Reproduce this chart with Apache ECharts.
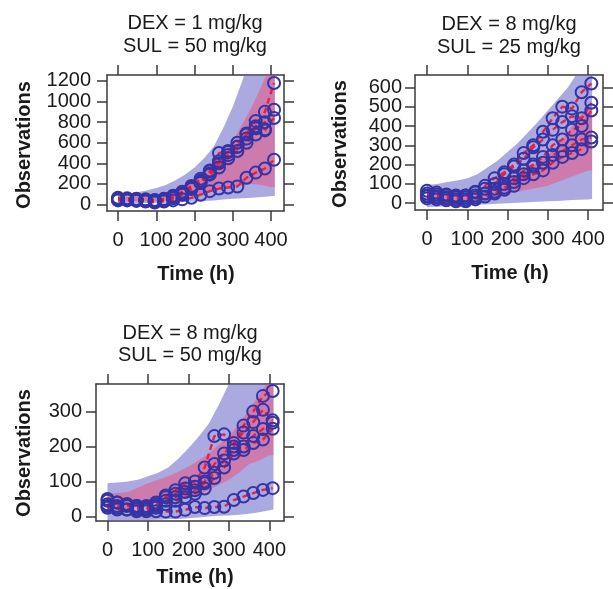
<!DOCTYPE html>
<html><head><meta charset="utf-8">
<script src="https://cdn.jsdelivr.net/npm/echarts@6/dist/echarts.min.js"></script>
<style>html,body{margin:0;padding:0;background:#fff}#c{width:613px;height:589px}</style>
</head><body><div id="c"></div>
<script>
// ---------- data ----------
const times = [0,24,48,72,96,120,144,168,192,216,240,264,288,312,336,360,384,408];
const xTicks = [0,100,200,300,400];
const bandTimes = [0,25,50,75,100,125,150,175,200,225,250,275,300,325,350,375,400,410];

// Panel 1: DEX = 1 mg/kg, SUL = 50 mg/kg
const p1Title = ['DEX = 1 mg/kg', 'SUL = 50 mg/kg'];
const p1YTicks = [0,200,400,600,800,1000,1200];
const p1Ind1 = [65,60,55,50,45,55,85,125,180,250,330,420,520,600,680,760,900,1180];
const p1Ind2 = [55,50,50,45,40,50,75,110,170,230,300,400,480,560,640,740,800,920];
const p1Ind3 = [45,45,40,35,35,45,65,100,150,210,290,360,450,520,600,680,720,840];
const p1Ind4 = [50,45,45,40,30,40,60,95,160,220,320,500,510,560,690,810,730,'-'];
const p1Ind5 = [40,40,35,30,20,30,40,50,65,95,130,155,165,175,260,310,350,435];
const p1BlueLo = [15,15,15,15,15,18,20,25,30,35,40,48,55,60,65,72,80,85];
const p1BlueHi = [105,110,120,135,160,190,235,290,360,450,560,740,950,1200,1500,1800,2100,2200];
const p1RedLo  = [35,35,35,35,35,40,50,70,90,110,130,150,170,185,200,190,170,170];
const p1RedHi  = [75,75,75,80,90,110,140,190,250,320,400,500,620,780,950,1150,1350,1400];

// Panel 2: DEX = 8 mg/kg, SUL = 25 mg/kg
const p2Title = ['DEX = 8 mg/kg', 'SUL = 25 mg/kg'];
const p2YTicks = [0,100,200,300,400,500,600];
const p2Ind1 = [65,55,45,40,40,60,90,130,160,200,260,300,370,440,500,490,575,620];
const p2Ind2 = [50,45,40,35,40,55,75,100,150,190,230,290,330,380,420,450,440,520];
const p2Ind3 = [35,30,25,20,20,30,50,75,100,130,170,200,240,300,330,380,400,480];
const p2Ind4 = [25,20,15,10,10,20,35,50,80,110,150,190,210,250,270,300,330,340];
const p2Ind5 = [40,35,30,30,30,40,50,60,70,90,130,150,170,210,240,260,280,320];
const p2BlueLo = [-20,-18,-15,-12,-10,-8,-5,-3,0,3,5,8,10,12,15,18,20,22];
const p2BlueHi = [95,100,110,118,130,150,185,220,265,310,365,420,480,540,600,680,760,790];
const p2RedLo  = [20,18,15,15,15,18,25,35,50,60,70,80,90,110,130,150,170,170];
const p2RedHi  = [50,48,45,45,45,55,70,95,120,150,180,215,250,300,370,440,500,520];

// Panel 3: DEX = 8 mg/kg, SUL = 50 mg/kg
const p3Title = ['DEX = 8 mg/kg', 'SUL = 50 mg/kg'];
const p3YTicks = [0,100,200,300];
const p3Ind1 = [45,40,35,30,30,40,60,75,95,100,140,230,235,200,260,300,345,359];
const p3Ind2 = [35,30,30,25,25,35,55,65,80,85,100,150,180,210,240,270,305,275];
const p3Ind3 = [30,25,20,20,20,30,45,55,70,75,95,125,160,190,200,230,250,268];
const p3Ind4 = [25,20,20,15,15,25,35,45,55,65,80,110,140,180,190,210,220,251];
const p3Ind5 = [50,40,35,30,25,15,14,14,19,27,24,27,28,47,57,67,76,81];
const p3BlueLo = [-15,-13,-12,-11,-10,-9,-8,-7,-5,-3,0,2,3,5,8,12,18,20];
const p3BlueHi = [95,97,100,105,115,125,140,165,195,228,265,320,380,420,460,490,520,530];
const p3RedLo  = [20,20,20,28,35,40,45,50,53,62,75,90,105,125,150,160,175,175];
const p3RedHi  = [65,67,70,82,95,105,115,128,143,160,180,205,229,265,306,350,390,400];

const xName = 'Time (h)';
const yName = 'Observations';

// ---------- layout / style ----------
const FONT = '"Liberation Sans", Arial, Helvetica, sans-serif';
const TXT = '#1a1a1a';
const AX = '#3a3a3a';
const panels = [
  {title:p1Title, yTicks:p1YTicks, inds:[p1Ind1,p1Ind2,p1Ind3,p1Ind4,p1Ind5],
   blueLo:p1BlueLo, blueHi:p1BlueHi, redLo:p1RedLo, redHi:p1RedHi, splitLabels:false,
   grid:{left:107, top:75, width:177, height:136}, xMin:-28.8, xMax:434, yMin:-63, yMax:1258, yMargin:16,
   titleX:195, titleY:[23,46], obsX:24, obsY:145, timeX:196, timeY:274},
  {title:p2Title, yTicks:p2YTicks, inds:[p2Ind1,p2Ind2,p2Ind3,p2Ind4,p2Ind5],
   blueLo:p2BlueLo, blueHi:p2BlueHi, redLo:p2RedLo, redHi:p2RedHi, splitLabels:true,
   grid:{left:415, top:75, width:188, height:135}, xMin:-29.8, xMax:437, yMin:-35, yMax:664, yMargin:13,
   titleX:509, titleY:[24,47], obsX:340, obsY:144, timeX:510, timeY:273},
  {title:p3Title, yTicks:p3YTicks, inds:[p3Ind1,p3Ind2,p3Ind3,p3Ind4,p3Ind5],
   blueLo:p3BlueLo, blueHi:p3BlueHi, redLo:p3RedLo, redHi:p3RedHi, splitLabels:false,
   grid:{left:96, top:384, width:188, height:137}, xMin:-28.4, xMax:436, yMin:-12.9, yMax:379, yMargin:14,
   titleX:190, titleY:[333,355], obsX:24, obsY:453, timeX:195, timeY:577}
];

const grids = [], xAxes = [], yAxes = [], series = [], graphics = [];
const axLine = {show:true, onZero:false, lineStyle:{color:AX, width:1.5}};
const tick = (vals) => ({show:true, inside:false, length:10, customValues:vals, lineStyle:{color:AX, width:1.5}});
const lbl = (vals, margin) => ({show:true, customValues:vals, margin:margin, color:TXT, fontSize:20,
  fontFamily:FONT, showMinLabel:true, showMaxLabel:true, hideOverlap:false, formatter:v=>String(v)});

panels.forEach((p, i) => {
  grids.push(Object.assign({containLabel:false, show:false}, p.grid));
  const xi = xAxes.length;
  xAxes.push({type:'value', gridIndex:i, position:'bottom', min:p.xMin, max:p.xMax,
    axisLine:axLine, axisTick:tick(xTicks), axisLabel:lbl(xTicks, 19), splitLine:{show:false}});
  xAxes.push({type:'value', gridIndex:i, position:'top', min:p.xMin, max:p.xMax,
    axisLine:axLine, axisTick:tick(xTicks), axisLabel:{show:false}, splitLine:{show:false}});
  const yi = yAxes.length;
  // labels of dense axes are split over two coincident left axes so none is dropped
  const labA = p.splitLabels ? p.yTicks.filter((v,k)=>k%2===0) : p.yTicks;
  const labB = p.splitLabels ? p.yTicks.filter((v,k)=>k%2===1) : null;
  yAxes.push({type:'value', gridIndex:i, position:'left', min:p.yMin, max:p.yMax,
    axisLine:axLine, axisTick:tick(p.yTicks), axisLabel:lbl(labA, p.yMargin), splitLine:{show:false}});
  yAxes.push({type:'value', gridIndex:i, position:'right', min:p.yMin, max:p.yMax,
    axisLine:axLine, axisTick:tick(p.yTicks), axisLabel:{show:false}, splitLine:{show:false}});
  if (labB) {
    yAxes.push({type:'value', gridIndex:i, position:'left', offset:0, min:p.yMin, max:p.yMax,
      axisLine:{show:false, onZero:false}, axisTick:{show:false}, axisLabel:lbl(labB, p.yMargin), splitLine:{show:false}});
  }
  const band = (lo, hi, color) => {
    series.push({type:'custom', xAxisIndex:xi, yAxisIndex:yi, clip:true, silent:true, z:1,
      data:[[0,0]],
      renderItem:(params, api) => {
        const up = bandTimes.map((t,k)=>api.coord([t, hi[k]]));
        const dn = bandTimes.map((t,k)=>api.coord([t, lo[k]])).reverse();
        return {type:'polygon', shape:{points:up.concat(dn)}, style:{fill:color}};
      }});
  };
  band(p.blueLo, p.blueHi, 'rgba(100,100,200,0.55)');
  band(p.redLo, p.redHi, 'rgba(255,60,100,0.42)');
  p.inds.forEach(arr => {
    series.push({type:'line', xAxisIndex:xi, yAxisIndex:yi, z:3,
      data:times.map((t,k)=>[t, arr[k]]), connectNulls:false,
      symbol:'circle', symbolSize:12, showAllSymbol:true,
      lineStyle:{color:'rgba(235,20,55,0.9)', width:2.4, type:[6,4]},
      itemStyle:{color:'rgba(0,0,0,0)', borderColor:'#3434a6', borderWidth:2}});
  });
  p.title.forEach((s, k) => graphics.push({type:'text', x:p.titleX, y:p.titleY[k], silent:true,
    style:{text:s, fill:TXT, font:'20px '+FONT, textAlign:'center', textVerticalAlign:'middle'}}));
  graphics.push({type:'text', x:p.obsX, y:p.obsY, rotation:Math.PI/2, silent:true,
    style:{text:yName, fill:TXT, font:'bold 20px '+FONT, textAlign:'center', textVerticalAlign:'middle'}});
  graphics.push({type:'text', x:p.timeX, y:p.timeY, silent:true,
    style:{text:xName, fill:TXT, font:'bold 20px '+FONT, textAlign:'center', textVerticalAlign:'middle'}});
});

const chart = echarts.init(document.getElementById('c'), null, {renderer:'canvas'});
chart.setOption({
  animation:false, backgroundColor:'#fff',
  grid:grids, xAxis:xAxes, yAxis:yAxes, series:series, graphic:graphics
});
</script></body></html>
